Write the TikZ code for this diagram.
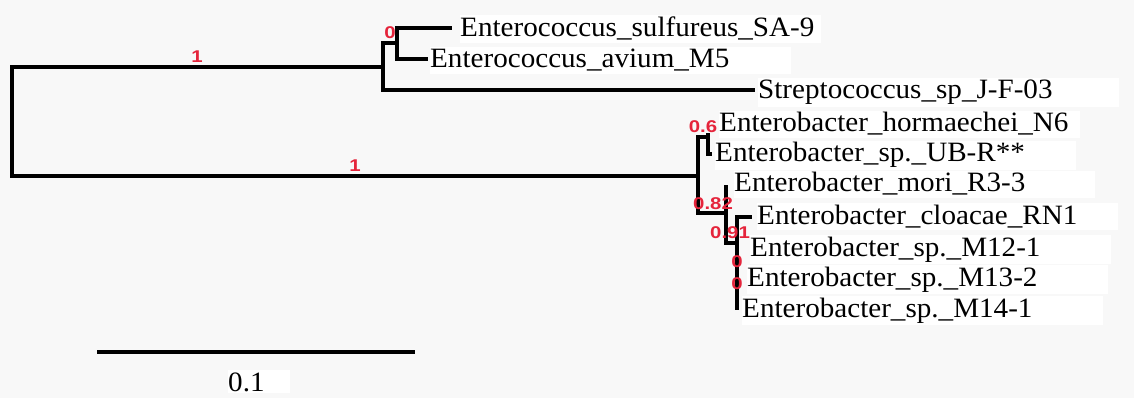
\documentclass[tikz,border=0pt]{standalone}
\usepackage{fontspec}
\setmainfont{Liberation Serif}
\newfontfamily\bsfont{Liberation Sans}
\definecolor{bg}{HTML}{F8F8F8}
\definecolor{bsred}{HTML}{E5243B}
\newcommand\leaftxt[1]{\makebox[361pt][l]{\scalebox{1.04}[1]{\fontsize{28}{30}\selectfont #1}}}
\newcommand\bstxt[1]{\scalebox{1.2}[1]{\bsfont\bfseries\fontsize{17}{17}\selectfont #1}}
\begin{document}
\begin{tikzpicture}[x=1pt,y=-1pt,
  branch/.style={line width=3.5pt, line join=miter, black},
  leaflab/.style={anchor=base west, inner xsep=0pt, inner ysep=2pt, fill=white, yshift=-9pt},
  bs/.style={text=bsred, inner sep=0pt}]
\fill[bg] (0,0) rectangle (1134,398);
\useasboundingbox (0,0) rectangle (1134,398);
% tree nodes
\coordinate (r) at (12,121);
\coordinate (nA) at (383,67);
\coordinate (nC) at (397,43);
\coordinate (lSulf) at (452,28);
\coordinate (lAvi) at (428,59);
\coordinate (lStrep) at (755,90);
\coordinate (nB) at (698,176);
\coordinate (nD) at (708,137);
\coordinate (lHor) at (708,133);
\coordinate (lUBR) at (712,154);
\coordinate (nE) at (726,213);
\coordinate (lMori) at (726,185);
\coordinate (nF) at (737,243);
\coordinate (lClo) at (752,217);
\coordinate (lM12) at (737,247);
\coordinate (lM13) at (737,277);
\coordinate (lM14) at (737,310);
% branches
\draw[branch] (r) |- (nA);
\draw[branch] (r) |- (nB);
\draw[branch] (nA) |- (nC);
\draw[branch] (nA) |- (lStrep);
\draw[branch] (nC) |- (lSulf);
\draw[branch] (nC) |- (lAvi);
\draw[branch] (nB) |- (nD);
\draw[branch] (nB) |- (nE);
\draw[branch] (nD) |- (lHor);
\draw[branch] (nD) |- (lUBR);
\draw[branch] (nE) |- (lMori);
\draw[branch] (nE) |- (nF);
\draw[branch] (nF) |- (lClo);
\draw[branch] (nF) |- (lM12);
\draw[branch] (nF) |- (lM13);
\draw[branch] (nF) |- (lM14);
% leaf labels
\node[leaflab] (tSulf) at (460,28) {\leaftxt{Enterococcus\_sulfureus\_SA-9}};
\node[leaflab] (tAvi) at (430,59) {\leaftxt{Enterococcus\_avium\_M5}};
\node[leaflab] (tStrep) at (758,90) {\leaftxt{Streptococcus\_sp\_J-F-03}};
\node[leaflab] (tHor) at (719,123) {\leaftxt{Enterobacter\_hormaechei\_N6}};
\node[leaflab] (tUBR) at (715,153) {\leaftxt{Enterobacter\_sp.\_UB-R**}};
\node[leaflab] (tMori) at (734,183) {\leaftxt{Enterobacter\_mori\_R3-3}};
\node[leaflab] (tClo) at (757,215) {\leaftxt{Enterobacter\_cloacae\_RN1}};
\node[leaflab] (tM12) at (750,247) {\leaftxt{Enterobacter\_sp.\_M12-1}};
\node[leaflab] (tM13) at (747,277) {\leaftxt{Enterobacter\_sp.\_M13-2}};
\node[leaflab] (tM14) at (742,308) {\leaftxt{Enterobacter\_sp.\_M14-1}};
% bootstrap values
\node[bs] (b1) at (197,57) {\bstxt{1}};
\node[bs] (b2) at (355,166) {\bstxt{1}};
\node[bs] (b3) at (390,33) {\bstxt{0}};
\node[bs] (b4) at (703,127) {\bstxt{0.6}};
\node[bs] (b5) at (713,204) {\bstxt{0.82}};
\node[bs] (b6) at (730,233) {\bstxt{0.91}};
\node[bs] (b7) at (737,262) {\bstxt{0}};
\node[bs] (b8) at (737,284) {\bstxt{0}};
% scale bar
\coordinate (sb1) at (97,352);
\coordinate (sb2) at (415,352);
\draw[line width=4pt] (sb1) -- (sb2);
\node[anchor=base west, inner xsep=0pt, inner ysep=2pt, fill=white, yshift=-9pt] (sbl) at (228,382)
  {\makebox[62pt][l]{\scalebox{1.04}[1]{\fontsize{28}{30}\selectfont 0.1}}};
\end{tikzpicture}
\end{document}
